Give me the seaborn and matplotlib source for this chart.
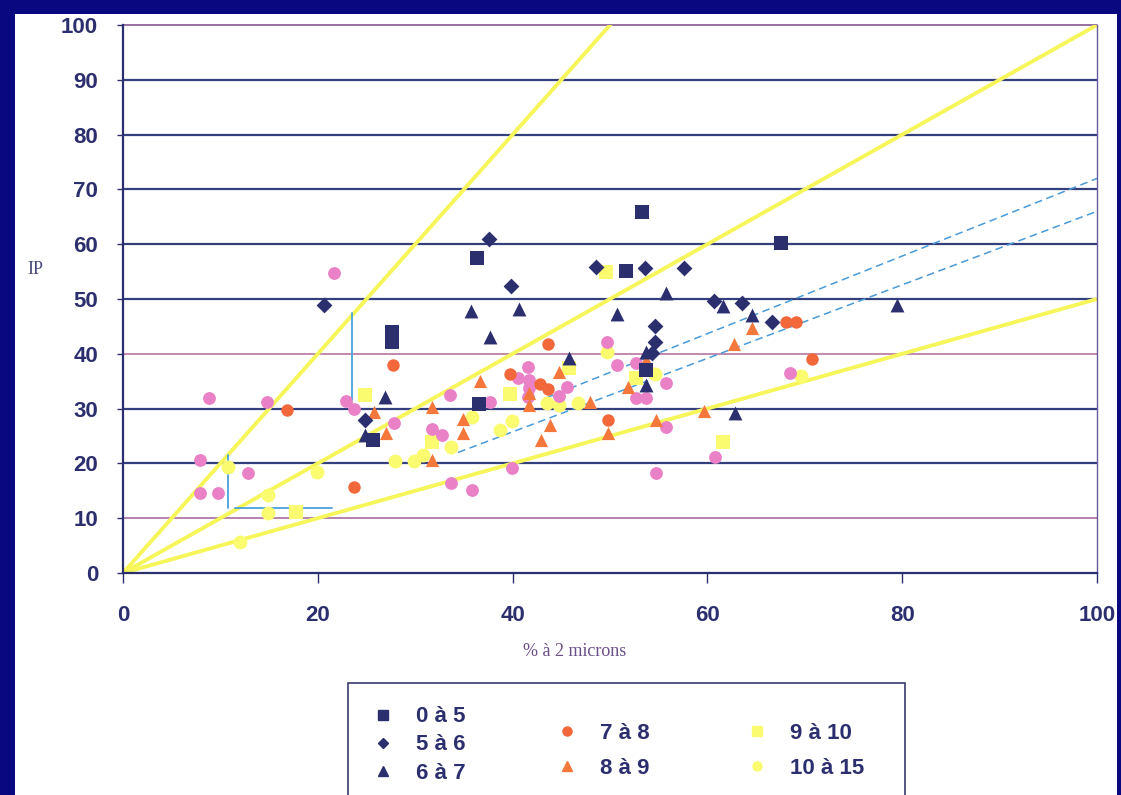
import numpy as np
import pandas as pd
import matplotlib
matplotlib.use("Agg")
import matplotlib.pyplot as plt
import matplotlib.patches as patches
from matplotlib.lines import Line2D
import seaborn as sns

# --- data: % a 2 microns (x) vs IP (y), per class ---
x_0_5 = [36.3, 27.6, 27.6, 25.7, 36.6, 53.3, 51.6, 67.6, 53.7]
y_0_5 = [57.5, 44.0, 42.2, 24.3, 30.8, 65.9, 55.1, 60.2, 37.0]

x_5_6 = [20.6, 37.6, 39.8, 48.6, 53.6, 57.6, 60.7, 63.6, 66.6, 54.6, 54.6, 54.3, 24.8]
y_5_6 = [48.9, 61.0, 52.4, 55.8, 55.7, 55.7, 49.6, 49.3, 45.8, 45.1, 42.2, 40.1, 27.9]

x_6_7 = [26.9, 24.8, 35.7, 40.7, 37.7, 50.7, 45.8, 55.7, 61.6, 64.6, 53.7, 53.7, 62.8, 79.5]
y_6_7 = [32.1, 25.2, 47.8, 48.2, 43.1, 47.3, 39.2, 51.1, 48.7, 47.1, 40.3, 34.3, 29.2, 48.9]

x_7_8 = [27.7, 16.8, 23.7, 43.6, 39.7, 42.8, 43.6, 49.8, 68.1, 69.1, 70.7]
y_7_8 = [38.0, 29.7, 15.7, 41.8, 36.3, 34.5, 33.6, 27.9, 45.8, 45.8, 39.1]

x_8_9 = [25.8, 27.0, 36.7, 31.7, 34.9, 34.9, 31.7, 41.7, 41.7, 44.8, 43.8, 42.9,
         47.9, 51.8, 49.8, 54.7, 59.6, 64.6, 62.7, 53.7]
y_8_9 = [29.4, 25.6, 35.0, 30.3, 28.1, 25.5, 20.6, 32.8, 30.7, 36.7, 27.0, 24.3,
         31.2, 33.9, 25.5, 27.9, 29.6, 44.7, 41.8, 38.9]

x_9_10 = [24.8, 49.6, 39.7, 17.8, 45.8, 61.6, 52.7, 31.7]
y_9_10 = [32.5, 54.9, 32.7, 11.1, 37.4, 23.9, 35.6, 23.9]

x_10_15 = [10.8, 19.9, 14.9, 14.9, 12.0, 27.9, 29.9, 30.8, 35.8, 39.9, 38.7, 33.7,
           43.5, 44.8, 46.7, 54.6, 69.6, 49.7]
y_10_15 = [19.3, 18.4, 14.2, 10.9, 5.7, 20.4, 20.4, 21.5, 28.5, 27.7, 26.1, 23.0,
           31.0, 30.7, 31.0, 36.3, 36.0, 40.3]

# pink points: their legend entry is cut off in the original
x_autres = [21.7, 8.8, 14.8, 22.9, 23.7, 7.9, 12.8, 7.9, 9.8, 27.8, 33.6, 37.7, 31.7,
            32.8, 33.7, 35.8, 39.9, 41.6, 40.6, 41.7, 41.6, 41.7, 45.6, 44.8, 50.7,
            52.7, 49.7, 52.7, 55.7, 53.7, 55.8, 60.8, 54.7, 68.5]
y_autres = [54.7, 31.9, 31.2, 31.4, 29.9, 20.6, 18.2, 14.6, 14.6, 27.4, 32.5, 31.2, 26.3,
            25.2, 16.4, 15.1, 19.2, 37.6, 35.6, 35.2, 32.1, 33.8, 33.9, 32.3, 38.0,
            31.9, 42.2, 38.3, 34.7, 31.9, 26.6, 21.2, 18.2, 36.5]

# reference lines through the origin (end points at x = 100)
ref_x = [0, 100]
ref_end_y = [200, 100, 50]
# dashed blue trend lines
dash_x = [[34.4, 100], [43.5, 100]]
dash_y = [[22.0, 66.0], [32.0, 72.0]]
# blue construction segments
seg_x = [[23.5, 23.5], [10.8, 10.8], [11.5, 21.5]]
seg_y = [[31.6, 47.4], [11.9, 21.5], [11.9, 11.9]]

frames = []
for name, xs, ys in [("0 à 5", x_0_5, y_0_5), ("5 à 6", x_5_6, y_5_6),
                     ("6 à 7", x_6_7, y_6_7), ("7 à 8", x_7_8, y_7_8),
                     ("8 à 9", x_8_9, y_8_9), ("9 à 10", x_9_10, y_9_10),
                     ("10 à 15", x_10_15, y_10_15), ("autres", x_autres, y_autres)]:
    frames.append(pd.DataFrame({"x": xs, "y": ys, "classe": name}))
df = pd.concat(frames, ignore_index=True)

navy = "#2c2f6e"
style = {
    "10 à 15": ("o", "#fbfb70", 100),
    "9 à 10": ("s", "#fbfb70", 100),
    "autres": ("o", "#ea80c6", 85),
    "8 à 9": ("^", "#f4783c", 90),
    "7 à 8": ("o", "#f2683a", 80),
    "0 à 5": ("s", navy, 105),
    "5 à 6": ("D", navy, 65),
    "6 à 7": ("^", navy, 100),
}

sns.set_style("white")
plt.rcParams["font.family"] = ["Liberation Sans", "DejaVu Sans"]

W, H = 1121, 795
fig = plt.figure(figsize=(W / 100, H / 100), dpi=100)
fig.patch.set_facecolor("#0a0880")
fig.add_artist(patches.Rectangle((15 / W, 0), (1117 - 15) / W, (H - 14) / H,
                                 transform=fig.transFigure, facecolor="white",
                                 edgecolor="none", zorder=-5))

ax = fig.add_axes([123 / W, 1 - 573 / H, (1097 - 123) / W, (573 - 25) / H])
ax.set_facecolor("white")
ax.set_xlim(0, 100)
ax.set_ylim(0, 100)

# horizontal grid, alternating navy / pink as in the scan
grid_cols = {10: "#a0609a", 20: "#34407e", 30: "#34407e", 40: "#b06a9a", 50: "#34407e",
             60: "#34407e", 70: "#34407e", 80: "#34407e", 90: "#34407e", 100: "#7a4a8a"}
for v, c in grid_cols.items():
    ax.axhline(v, color=c, lw=1.6 if c == "#34407e" else 1.1, zorder=1, clip_on=False)

for ye in ref_end_y:
    ax.plot(ref_x, [0, ye], color="#f6f65a", lw=2.8, zorder=2, solid_capstyle="butt")
for xs, ys in zip(dash_x, dash_y):
    ax.plot(xs, ys, color="#4a9ad8", lw=1.1, ls=(0, (5, 3)), zorder=2)
for xs, ys in zip(seg_x, seg_y):
    ax.plot(xs, ys, color="#4aa2dc", lw=1.3, zorder=2)

for name, (mk, col, s) in style.items():
    sub = df[df["classe"] == name]
    sns.scatterplot(data=sub, x="x", y="y", marker=mk, color=col, s=s,
                    linewidth=0, ax=ax, zorder=3, legend=False)

ax.spines["top"].set_visible(False)
ax.spines["left"].set_color(navy)
ax.spines["left"].set_linewidth(1.6)
ax.spines["bottom"].set_color(navy)
ax.spines["bottom"].set_linewidth(1.6)
ax.spines["right"].set_color("#6a5a9a")
ax.spines["right"].set_linewidth(1.0)

ax.set_xticks(range(0, 101, 20))
ax.set_yticks(range(0, 101, 10))
ax.tick_params(axis="x", length=7, width=1, color=navy, pad=16, labelsize=16,
               labelcolor=navy, bottom=True)
ax.tick_params(axis="y", length=4, width=1, color=navy, pad=14, labelsize=16,
               labelcolor=navy, left=True)
for lab in ax.get_xticklabels() + ax.get_yticklabels():
    lab.set_fontweight("bold")

ax.set_xlabel("% à 2 microns", family=["Liberation Serif", "DejaVu Serif"],
              fontsize=13, color="#6a4e86")
ax.xaxis.set_label_coords(0.464, -0.128)
ax.set_ylabel("IP", family=["Liberation Serif", "DejaVu Serif"], fontsize=13,
              color="#4a4a80", rotation=0, ha="center", va="center")
ax.yaxis.set_label_coords(-0.09, 0.553)

# legend box (cut off at the bottom like the scan)
fig.add_artist(patches.Rectangle((348 / W, -0.02), (905 - 348) / W, (H - 683) / H + 0.02,
                                 transform=fig.transFigure, facecolor="white",
                                 edgecolor="#3a3a70", lw=1.2, zorder=1))

def handles(names):
    hs = []
    for n in names:
        mk, col, s = style[n]
        hs.append(Line2D([], [], marker=mk, color=col, ls="none",
                         markersize=6.5 if mk != "D" else 5.5, label=n))
    return hs

leg_kw = dict(frameon=False, handlelength=1.0, borderpad=0, borderaxespad=0,
              labelcolor=navy, prop={"weight": "bold", "size": 16})
cols = [(["0 à 5", "5 à 6", "6 à 7"], 372, 745, 0.32),
        (["7 à 8", "8 à 9"], 556, 751, 0.62),
        (["9 à 10", "10 à 15"], 746, 751, 0.62)]
for names, x0, yc, sp in cols:
    lg = fig.legend(handles=handles(names), loc="center left",
                    bbox_to_anchor=(x0 / W, 1 - yc / H), labelspacing=sp,
                    handletextpad=1.0, **leg_kw)
    lg.set_zorder(2)

fig.savefig("out.png", dpi=100, facecolor=fig.get_facecolor())
